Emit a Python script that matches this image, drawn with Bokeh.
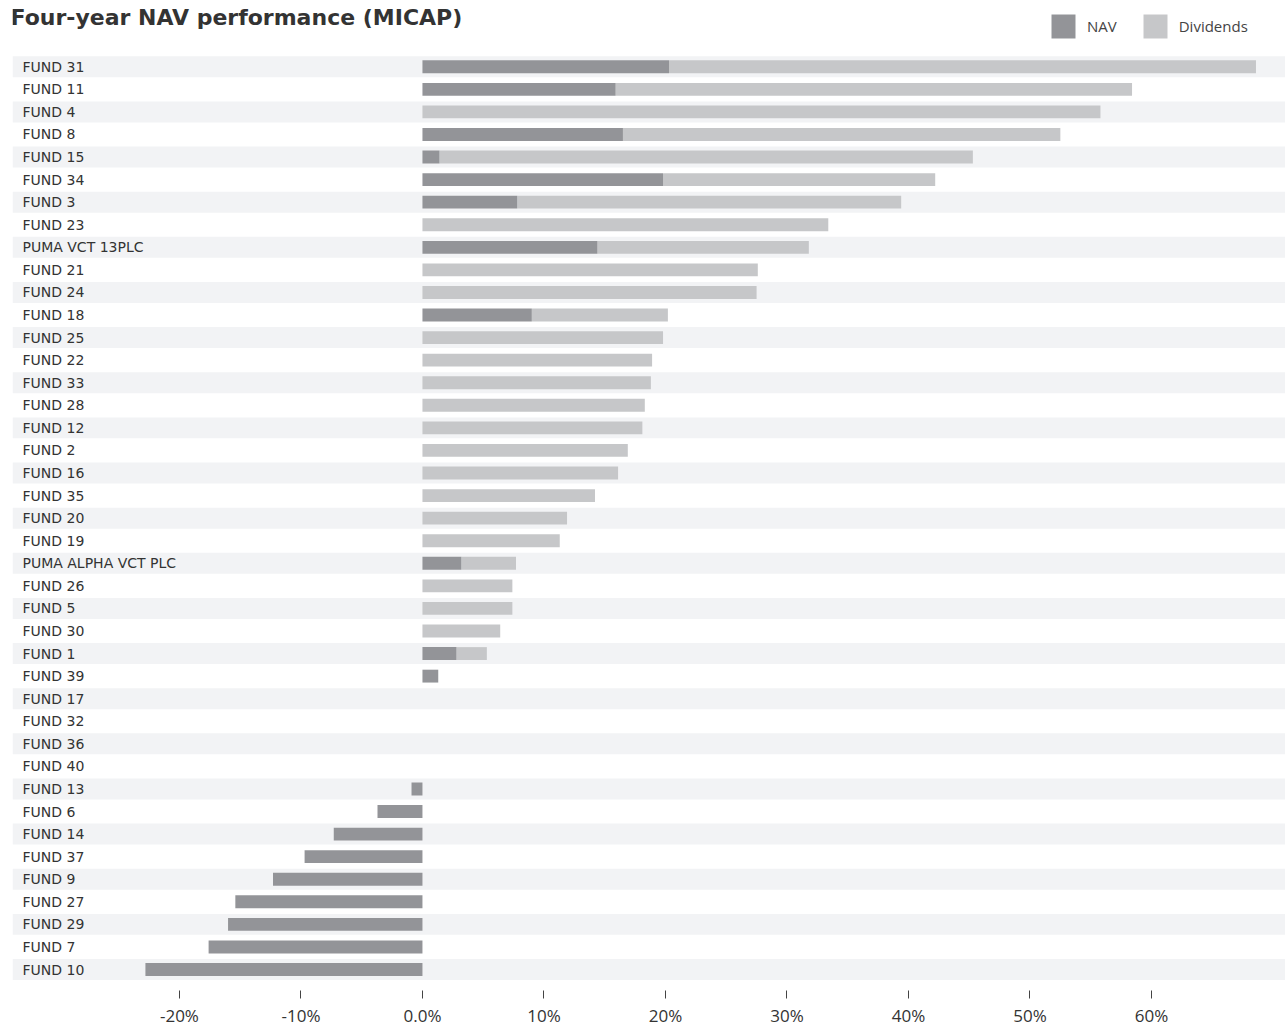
from bokeh.plotting import figure
from bokeh.models import Range1d, FixedTicker, Label, Legend, LegendItem, ColumnDataSource
from bokeh.core.properties import value
from bokeh.embed import file_html
from bokeh.resources import INLINE

funds = ["FUND 31", "FUND 11", "FUND 4", "FUND 8", "FUND 15", "FUND 34", "FUND 3", "FUND 23",
         "PUMA VCT 13PLC", "FUND 21", "FUND 24", "FUND 18", "FUND 25", "FUND 22", "FUND 33",
         "FUND 28", "FUND 12", "FUND 2", "FUND 16", "FUND 35", "FUND 20", "FUND 19",
         "PUMA ALPHA VCT PLC", "FUND 26", "FUND 5", "FUND 30", "FUND 1", "FUND 39", "FUND 17",
         "FUND 32", "FUND 36", "FUND 40", "FUND 13", "FUND 6", "FUND 14", "FUND 37", "FUND 9",
         "FUND 27", "FUND 29", "FUND 7", "FUND 10"]
nav = [20.3, 15.9, 0.0, 16.5, 1.4, 19.8, 7.8, 0.0, 14.4, 0.0, 0.0, 9.0, 0.0, 0.0, 0.0,
       0.0, 0.0, 0.0, 0.0, 0.0, 0.0, 0.0, 3.2, 0.0, 0.0, 0.0, 2.8, 1.3, 0.0,
       0.0, 0.0, 0.0, -0.9, -3.7, -7.3, -9.7, -12.3, -15.4, -16.0, -17.6, -22.8]
dividends = [48.3, 42.5, 55.8, 36.0, 43.9, 22.4, 31.6, 33.4, 17.4, 27.6, 27.5, 11.2, 19.8, 18.9, 18.8,
             18.3, 18.1, 16.9, 16.1, 14.2, 11.9, 11.3, 4.5, 7.4, 7.4, 6.4, 2.5, 0.0, 0.0,
             0.0, 0.0, 0.0, 0.0, 0.0, 0.0, 0.0, 0.0, 0.0, 0.0, 0.0, 0.0]
tick_values = [-20, -10, 0, 10, 20, 30, 40, 50, 60]
tick_labels = ["-20%", "-10%", "0.0%", "10%", "20%", "30%", "40%", "50%", "60%"]
title_text = "Four-year NAV performance (MICAP)"

NAV_COLOR = "#939498"
DIV_COLOR = "#c6c7c9"
BAND_COLOR = "#f2f3f5"

x_start, x_end = -33.74, 71.03
y_top, y_bottom = -2.937, 40.93

p = figure(frame_width=1273, frame_height=990, output_backend="svg", toolbar_location=None,
           x_range=Range1d(x_start, x_end), y_range=Range1d(y_bottom, y_top),
           y_axis_location=None, min_border_left=12, min_border_right=0, min_border_top=0,
           min_border_bottom=0)
p.outline_line_color = None
p.xgrid.visible = False
p.ygrid.visible = False

idx = list(range(len(funds)))
band_idx = [i for i in idx if i % 2 == 0]
p.hbar(y=band_idx, left=x_start, right=x_end, height=0.93, fill_color=BAND_COLOR, line_color=None)

nav_left = [min(0, v) for v in nav]
nav_right = [max(0, v) for v in nav]
div_left = [max(0, v) for v in nav]
div_right = [max(0, v) + d for v, d in zip(nav, dividends)]

src = ColumnDataSource(dict(y=idx, nl=nav_left, nr=nav_right, dl=div_left, dr=div_right, name=funds,
                            lx=[x_start] * len(funds)))
r_div = p.hbar(y="y", left="dl", right="dr", height=0.57, source=src, fill_color=DIV_COLOR, line_color=None)
r_nav = p.hbar(y="y", left="nl", right="nr", height=0.57, source=src, fill_color=NAV_COLOR, line_color=None)

p.text(x="lx", y="y", text="name", source=src, x_offset=10, text_baseline="middle",
       text_font=value("DejaVu Sans"), text_font_size="14px", text_color="#333333")

ax = p.xaxis[0]
ax.ticker = FixedTicker(ticks=tick_values)
ax.major_label_overrides = {v: l for v, l in zip(tick_values, tick_labels)}
ax.axis_line_color = None
ax.minor_tick_line_color = None
ax.major_tick_in = 0
ax.major_tick_out = 8
ax.major_tick_line_color = "#444444"
ax.major_label_standoff = 5
ax.major_label_text_font = "Open Sans"
ax.major_label_text_font_size = "17px"
ax.major_label_text_color = "#333333"

p.add_layout(Label(x=-2, y=973, x_units="screen", y_units="screen", text=title_text,
                   text_font="DejaVu Sans", text_font_style="bold", text_font_size="22px",
                   text_color="#333333", text_baseline="middle"))

legend = Legend(items=[LegendItem(label="NAV", renderers=[r_nav]),
                       LegendItem(label="Dividends", renderers=[r_div])],
                orientation="horizontal", location=(1036, 949), glyph_width=30, glyph_height=30,
                label_standoff=9, spacing=23, padding=0, margin=0, border_line_color=None,
                background_fill_alpha=0, label_text_font="Open Sans", label_text_font_size="15px",
                label_text_color="#444444")
p.add_layout(legend, "center")

open("out.html", "w").write(file_html(p, INLINE))
